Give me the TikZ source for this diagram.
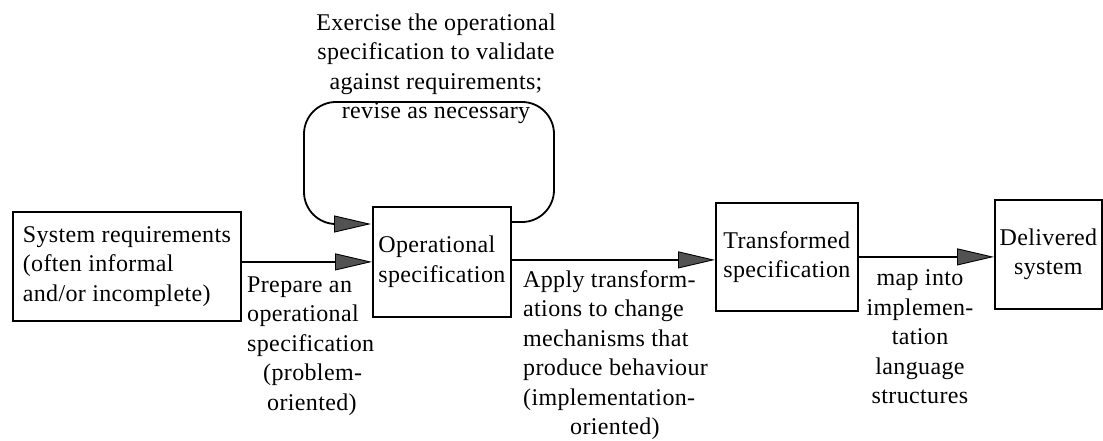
\documentclass[tikz,border=0pt]{standalone}
\usepackage{fontspec}
\setmainfont[LetterSpace=1.5]{Liberation Serif}
\usetikzlibrary{arrows.meta,calc}
\begin{document}
\begin{tikzpicture}[x=1pt,y=-1pt,
  every node/.style={font=\fontsize{24}{29.5}\selectfont, inner sep=0pt},
  box/.style={draw, line width=1.8pt, align=left, anchor=north west},
  flow/.style={line width=1.8pt,
    -{Triangle[length=37pt,width=17pt,fill=black!68,line width=0.9pt]}},
  note/.style={align=left, anchor=west}]
\useasboundingbox (0,0) rectangle (1103,441);

% stages of the process
\node[box, minimum width=228pt, minimum height=109pt] (sys) at (12,211)
  {System requirements\\(often informal\\and/or incomplete)};
\node[box, minimum width=138pt, minimum height=110pt] (op) at (372,206)
  {Operational\\specification};
\node[box, minimum width=142pt, minimum height=108pt] (trans) at (715,202)
  {Transformed\\specification};
\node[box, align=center, minimum width=107pt, minimum height=109pt] (del) at (994,199)
  {Delivered\\system};

% forward steps
\draw[flow] (sys.east |- op.west) -- (op.west);
\draw[flow] ($(op.east)+(0,-2)$) -- ($(trans.west)+(0,3)$);
\draw[flow] (trans.east) -- (del.west |- trans.east);

% validation loop around the operational specification
\coordinate (loopNE) at (554,102);
\coordinate (loopSW) at (304,224);
\draw[flow, rounded corners=32pt] ($(op.north east)+(0,16)$) -| (loopNE)
  -| (loopSW) -- ($(op.north west)+(-1,18)$);

% step descriptions
\node[align=center] (exercise) at (436,69)
  {Exercise the operational\\specification to validate\\against requirements;\\revise as necessary};
\node[note] (prepare) at (247,346)
  {Prepare an\\operational\\specification\\\hspace*{16pt}(problem-\\\hspace*{20pt}oriented)};
\node[note] (apply) at (523,355)
  {Apply transform-\\ations to change\\mechanisms that\\produce behaviour\\(implementation-\\\hspace*{47pt}oriented)};
\node[align=center] (map) at (920,337)
  {map into\\implemen-\\tation\\language\\structures};
\end{tikzpicture}
\end{document}
